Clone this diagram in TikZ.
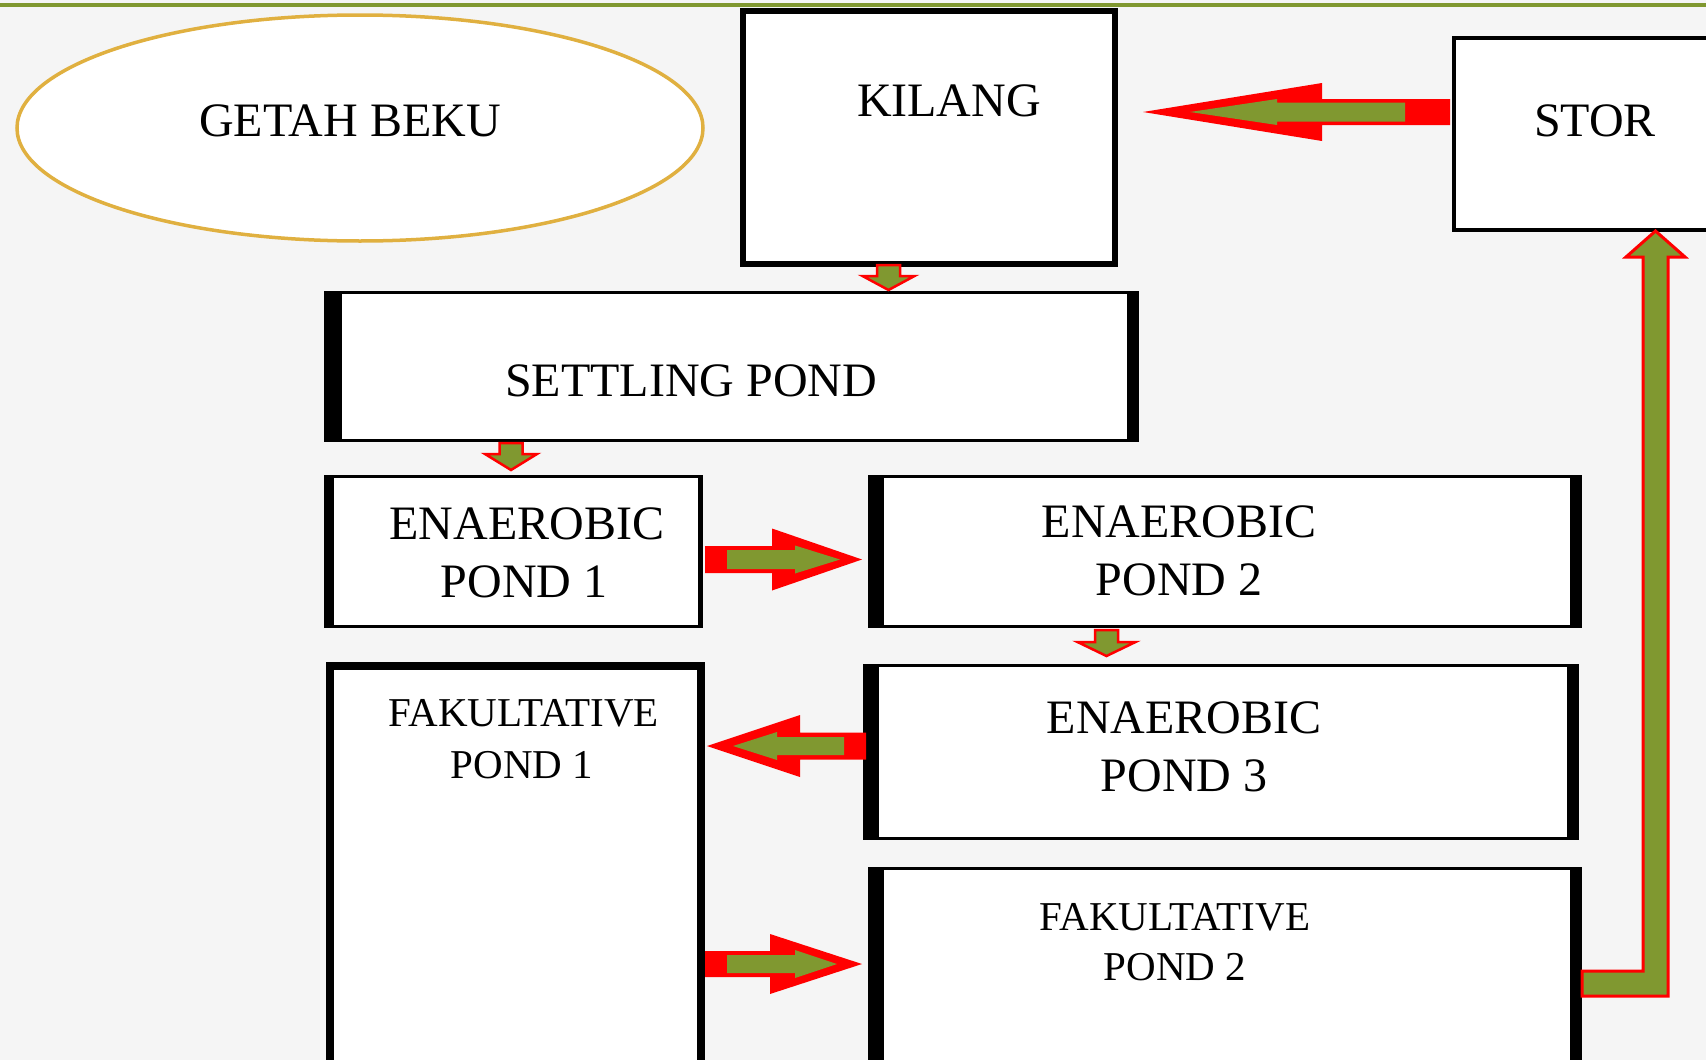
\documentclass[tikz,border=0pt]{standalone}
\usepackage{fontspec}
\setmainfont{Liberation Serif}
\usetikzlibrary{shapes.geometric}
\definecolor{bggray}{RGB}{245,245,245}
\definecolor{olivegrn}{RGB}{128,152,48}
\definecolor{goldline}{RGB}{224,176,64}
\definecolor{arrred}{RGB}{255,0,0}
\newcommand\harr[7]{% style, tailx, headbasex, tipx, y, shaft half, head half
  \path[#1] (#2,#5-#6) -- (#3,#5-#6) -- (#3,#5-#7) -- (#4,#5) -- (#3,#5+#7) -- (#3,#5+#6) -- (#2,#5+#6) -- cycle;}
\newcommand\varr[7]{% style, taily, headbasey, tipy, x, shaft half, head half
  \path[#1] (#5-#6,#2) -- (#5-#6,#3) -- (#5-#7,#3) -- (#5,#4) -- (#5+#7,#3) -- (#5+#6,#3) -- (#5+#6,#2) -- cycle;}
\begin{document}
\begin{tikzpicture}[x=1pt,y=-1pt,
  pbox/.style={draw=black, fill=white, line width=3pt, rectangle, inner sep=0pt, anchor=north west},
  bigtxt/.style={font=\fontsize{48}{56}\selectfont, inner sep=0pt, anchor=base},
  midtxt/.style={font=\fontsize{41}{50}\selectfont, inner sep=0pt, anchor=base},
  redarr/.style={fill=arrred},
  grnarr/.style={fill=olivegrn},
  smallarr/.style={fill=olivegrn, draw=arrred, line width=2.5pt, line join=miter},
  bar/.style={fill=black}]
\useasboundingbox (0,0) rectangle (1706,1060);
\clip (0,0) rectangle (1706,1060);
\fill[bggray] (0,0) rectangle (1706,1060);
\draw[olivegrn, line width=3.5pt] (0,5) -- (1706,5);

% ellipse
\node[draw=goldline, fill=white, line width=3.5pt, ellipse, minimum width=686pt, minimum height=226pt, inner sep=0pt] (getah) at (360,128) {};
\node[bigtxt] (getahT) at (350,136) {GETAH BEKU};

% KILANG
\node[pbox, line width=6pt, minimum width=372pt, minimum height=253pt] (kilang) at (740,8) {};
\fill[bar] (kilang.north west) rectangle ([xshift=5pt]kilang.south west);
\node[bigtxt] (kilangT) at (949,116) {KILANG};

% STOR
\node[pbox, line width=4pt, minimum width=268pt, minimum height=192pt] (stor) at (1452,36) {};
\node[bigtxt] (storT) at (1595,136) {STOR};

% SETTLING POND
\node[pbox, minimum width=812pt, minimum height=148pt] (settle) at (323.5,290.5) {};
\fill[bar] (settle.north west) rectangle ([xshift=18pt]settle.south west);
\fill[bar] ([xshift=-12pt]settle.north east) rectangle (settle.south east);
\node[bigtxt] (settleT) at (691,396) {SETTLING POND};

% ENAEROBIC POND 1
\node[pbox, minimum width=376pt, minimum height=150pt] (ena1) at (323.5,474.5) {};
\fill[bar] (ena1.north west) rectangle ([xshift=10pt]ena1.south west);
\fill[bar] ([xshift=-5pt]ena1.north east) rectangle (ena1.south east);
\node[bigtxt] (ena1a) at (527,539) {ENAEROBIC};
\node[bigtxt] (ena1b) at (524,597) {POND 1};

% ENAEROBIC POND 2
\node[pbox, minimum width=711pt, minimum height=150pt] (ena2) at (867.5,474.5) {};
\fill[bar] (ena2.north west) rectangle ([xshift=16pt]ena2.south west);
\fill[bar] ([xshift=-12pt]ena2.north east) rectangle (ena2.south east);
\node[bigtxt] (ena2a) at (1179,537) {ENAEROBIC};
\node[bigtxt] (ena2b) at (1179,595) {POND 2};

% ENAEROBIC POND 3
\node[pbox, minimum width=713pt, minimum height=173pt] (ena3) at (862.5,663.5) {};
\fill[bar] (ena3.north west) rectangle ([xshift=16pt]ena3.south west);
\fill[bar] ([xshift=-12pt]ena3.north east) rectangle (ena3.south east);
\node[bigtxt] (ena3a) at (1184,733) {ENAEROBIC};
\node[bigtxt] (ena3b) at (1184,791) {POND 3};

% FAKULTATIVE POND 1
\node[pbox, line width=8pt, minimum width=371pt, minimum height=420pt] (fak1) at (326,662) {};
\node[midtxt] (fak1a) at (524,726) {FAKULTATIVE};
\node[midtxt] (fak1b) at (522,778) {POND 1};

% FAKULTATIVE POND 2
\node[pbox, minimum width=711pt, minimum height=220pt] (fak2) at (867.5,866.5) {};
\fill[bar] (fak2.north west) rectangle ([xshift=16pt]fak2.south west);
\fill[bar] ([xshift=-12pt]fak2.north east) rectangle (fak2.south east);
\node[midtxt] (fak2a) at (1175,930) {FAKULTATIVE};
\node[midtxt] (fak2b) at (1175,980) {POND 2};

% STOR -> KILANG
\harr{redarr}{1450}{1322}{1143}{112}{13}{29}
\harr{grnarr}{1405}{1277}{1190}{112}{9.5}{13}

% KILANG -> SETTLING
\varr{smallarr}{265}{276}{290}{888.5}{11.5}{26}
% SETTLING -> ENA1
\varr{smallarr}{443}{454}{470}{511}{11.5}{26}
% ENA2 -> ENA3
\varr{smallarr}{630}{642}{656}{1106.5}{11.5}{29}

% ENA1 -> ENA2
\harr{redarr}{705}{772}{862}{559.5}{13.5}{31}
\harr{grnarr}{727}{795}{840}{559.5}{9.5}{14}

% ENA3 -> FAK1
\harr{redarr}{866}{800}{707}{746}{13.5}{31}
\harr{grnarr}{844}{777}{733}{746}{9}{14}

% FAK1 -> FAK2
\harr{redarr}{705}{770}{862}{964}{13}{30}
\harr{grnarr}{727}{795}{837}{964}{9}{14}

% FAK2 -> STOR (L-shaped)
\path[smallarr, line width=3pt] (1582,971) -- (1643,971) -- (1643,257) -- (1626,257) -- (1655.5,231) -- (1685,257) -- (1668,257) -- (1668,996) -- (1582,996) -- cycle;
\end{tikzpicture}
\end{document}
